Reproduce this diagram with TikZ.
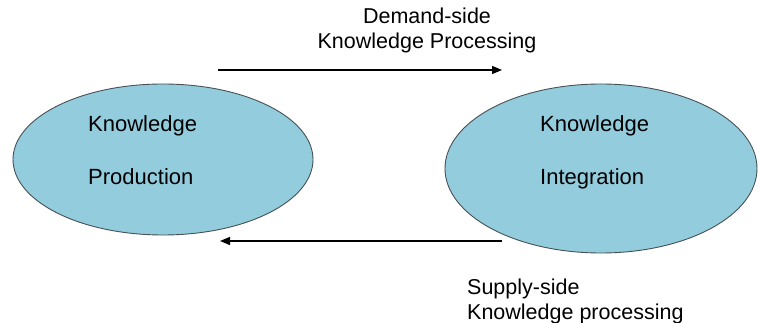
\documentclass[tikz,border=0pt]{standalone}
\usepackage{fontspec}
\setmainfont{Liberation Sans}
\usetikzlibrary{arrows.meta,shapes.geometric}
\definecolor{kmBlue}{RGB}{147,205,221}
\definecolor{kmEdge}{RGB}{70,80,85}

\begin{document}
\begin{tikzpicture}[x=1pt,y=1pt,
    blob/.style={ellipse,draw=kmEdge,line width=0.9pt,fill=kmBlue,inner sep=0pt},
    lbl/.style={inner sep=0pt,align=left,font=\fontsize{22}{53}\selectfont},
    side/.style={inner sep=0pt,font=\fontsize{21.5}{25}\selectfont},
    arrow/.style={-{Triangle[length=10pt,width=8pt]},line width=1.3pt}
  ]
    \useasboundingbox (0,0) rectangle (758,323);

    \node[blob,minimum width=300,minimum height=151] (prod) at (163,163.5) {};
    \node[blob,minimum width=312,minimum height=169] (integ) at (601,154.5) {};

    \node[lbl,anchor=north west] (prodtxt) at (88,208) {Knowledge\\Production};
    \node[lbl,anchor=north west] (integtxt) at (540,208) {Knowledge\\Integration};

    \coordinate (dsrc) at (218,253);
    \coordinate (ddst) at (502,253);
    \coordinate (ssrc) at (502,82);
    \coordinate (sdst) at (220,82);

    \draw[arrow] (dsrc) -- (ddst);
    \draw[arrow] (ssrc) -- (sdst);

    \node[side,align=center,anchor=north] (demand) at (427,315) {Demand-side\\Knowledge Processing};
    \node[side,align=left,anchor=north west] (supply) at (467,44) {Supply-side\\Knowledge processing};
  \end{tikzpicture}
\end{document}
